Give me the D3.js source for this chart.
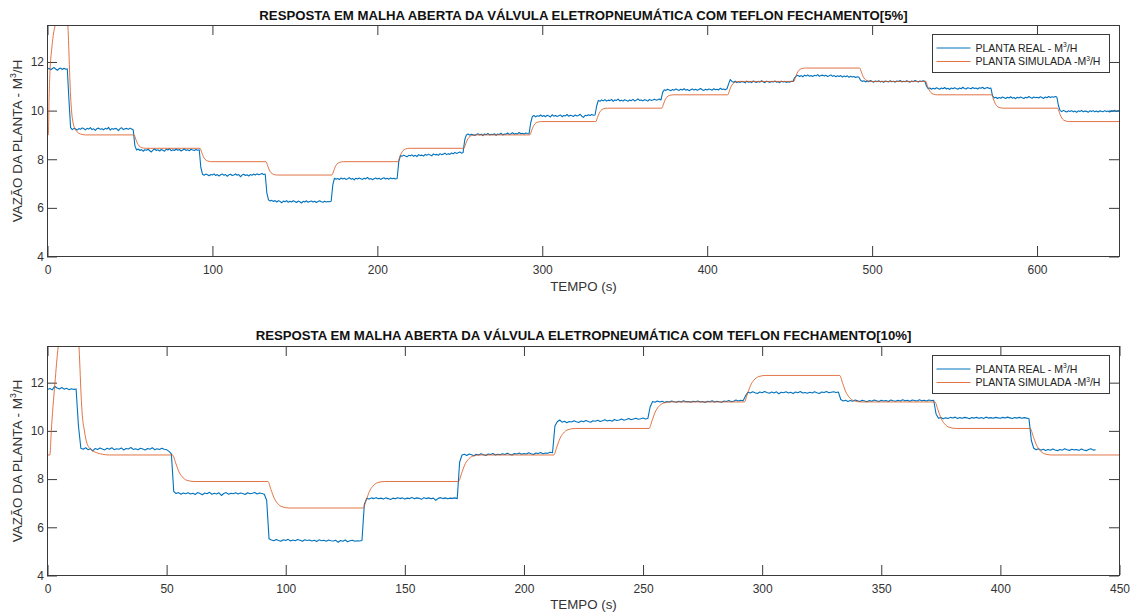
<!DOCTYPE html>
<html>
<head>
<meta charset="utf-8">
<script src="https://cdn.jsdelivr.net/npm/d3@7"></script>
<style>
  html, body { margin: 0; padding: 0; background: #fff; }
  svg { display: block; font-family: "Liberation Sans", Arial, Helvetica, sans-serif; }
</style>
</head>
<body>
<svg id="fig" width="1132" height="613"></svg>
<script>
// ---------------------------------------------------------------------------
// Open-loop response of the electro-pneumatic valve with Teflon seal
// ---------------------------------------------------------------------------

const titleTop = "RESPOSTA EM MALHA ABERTA DA VÁLVULA ELETROPNEUMÁTICA COM TEFLON FECHAMENTO[5%]";
const titleBottom = "RESPOSTA EM MALHA ABERTA DA VÁLVULA ELETROPNEUMÁTICA COM TEFLON FECHAMENTO[10%]";
const seriesNames = ["PLANTA REAL - M", "PLANTA SIMULADA -M"];
const xLabel = "TEMPO (s)";
const yLabel = "VAZÃO DA PLANTA - M";

const yDomain = [4, 13.5];
const ticksY = [4, 6, 8, 10, 12];
const ticksX5 = [0, 100, 200, 300, 400, 500, 600];
const ticksX10 = [0, 50, 100, 150, 200, 250, 300, 350, 400, 450];

// measured flow, one sample per second (m3/h)
const sampleStep = 1;

// 5% closing steps, t = 0 .. 650 s
const realFlow5 = [
  11.70, 11.74, 11.68, 11.73, 11.77, 11.71, 11.66, 11.72, 11.75, 11.69,
  11.74, 11.70, 11.72, 10.45, 9.30, 9.22, 9.27, 9.24, 9.20, 9.26,
  9.23, 9.29, 9.25, 9.21, 9.27, 9.24, 9.30, 9.22, 9.25, 9.19,
  9.26, 9.28, 9.23, 9.25, 9.21, 9.27, 9.24, 9.31, 9.20, 9.26,
  9.23, 9.27, 9.25, 9.18, 9.26, 9.29, 9.22, 9.25, 9.27, 9.23,
  9.28, 9.24, 9.20, 8.55, 8.38, 8.42, 8.36, 8.40, 8.33, 8.39,
  8.37, 8.41, 8.35, 8.30, 8.38, 8.42, 8.36, 8.39, 8.34, 8.40,
  8.37, 8.33, 8.41, 8.38, 8.44, 8.35, 8.39, 8.36, 8.42, 8.37,
  8.40, 8.34, 8.38, 8.43, 8.36, 8.39, 8.35, 8.41, 8.38, 8.36,
  8.40, 8.37, 8.39, 7.65, 7.38, 7.34, 7.39, 7.36, 7.32, 7.37,
  7.35, 7.40, 7.33, 7.37, 7.31, 7.36, 7.39, 7.34, 7.37, 7.30,
  7.36, 7.38, 7.33, 7.35, 7.40, 7.34, 7.37, 7.28, 7.35, 7.38,
  7.33, 7.36, 7.31, 7.37, 7.34, 7.39, 7.35, 7.40, 7.36, 7.38,
  7.41, 7.37, 7.39, 6.62, 6.33, 6.28, 6.31, 6.26, 6.30, 6.24,
  6.29, 6.27, 6.21, 6.28, 6.25, 6.30, 6.23, 6.27, 6.24, 6.29,
  6.26, 6.22, 6.28, 6.25, 6.20, 6.27, 6.24, 6.29, 6.23, 6.26,
  6.28, 6.24, 6.27, 6.22, 6.26, 6.29, 6.25, 6.23, 6.27, 6.24,
  6.26, 6.25, 6.27, 6.95, 7.22, 7.18, 7.21, 7.16, 7.23, 7.19,
  7.22, 7.17, 7.20, 7.24, 7.18, 7.21, 7.15, 7.22, 7.19, 7.23,
  7.20, 7.17, 7.22, 7.19, 7.25, 7.18, 7.21, 7.16, 7.20, 7.23,
  7.19, 7.22, 7.17, 7.21, 7.24, 7.19, 7.22, 7.18, 7.23, 7.20,
  7.22, 7.19, 7.21, 7.90, 8.15, 8.12, 8.17, 8.13, 8.10, 8.16,
  8.14, 8.18, 8.12, 8.16, 8.11, 8.19, 8.15, 8.17, 8.13, 8.20,
  8.16, 8.21, 8.17, 8.14, 8.22, 8.18, 8.20, 8.16, 8.23, 8.19,
  8.21, 8.25, 8.19, 8.23, 8.20, 8.26, 8.22, 8.28, 8.24, 8.27,
  8.30, 8.25, 8.28, 8.80, 9.00, 9.04, 8.99, 9.03, 9.01, 8.98,
  9.02, 9.05, 9.00, 9.03, 8.97, 9.04, 9.01, 9.06, 9.00, 9.03,
  9.01, 9.05, 8.98, 9.04, 9.02, 9.07, 9.00, 9.04, 9.03, 9.08,
  9.02, 9.05, 9.09, 9.03, 9.06, 9.04, 9.10, 9.05, 9.07, 9.04,
  9.08, 9.06, 9.05, 9.50, 9.76, 9.80, 9.74, 9.79, 9.77, 9.82,
  9.76, 9.80, 9.75, 9.81, 9.78, 9.74, 9.83, 9.77, 9.80, 9.76,
  9.79, 9.82, 9.75, 9.80, 9.78, 9.84, 9.77, 9.81, 9.79, 9.76,
  9.82, 9.78, 9.80, 9.85, 9.77, 9.72, 9.81, 9.79, 9.83, 9.80,
  9.84, 9.81, 9.82, 10.20, 10.42, 10.38, 10.44, 10.40, 10.45, 10.39,
  10.43, 10.41, 10.46, 10.38, 10.44, 10.42, 10.47, 10.40, 10.43, 10.39,
  10.45, 10.42, 10.38, 10.44, 10.41, 10.46, 10.40, 10.43, 10.48, 10.42,
  10.44, 10.40, 10.45, 10.43, 10.39, 10.46, 10.42, 10.44, 10.47, 10.43,
  10.45, 10.48, 10.44, 10.75, 10.86, 10.83, 10.88, 10.85, 10.82, 10.87,
  10.84, 10.89, 10.86, 10.83, 10.88, 10.85, 10.90, 10.84, 10.87, 10.82,
  10.86, 10.89, 10.85, 10.88, 10.84, 10.87, 10.91, 10.86, 10.83, 10.88,
  10.85, 10.89, 10.87, 10.84, 10.90, 10.86, 10.88, 10.85, 10.92, 10.87,
  10.89, 10.86, 10.90, 11.10, 11.28, 11.20, 11.17, 11.21, 11.15, 11.19,
  11.16, 11.20, 11.18, 11.14, 11.21, 11.17, 11.19, 11.15, 11.22, 11.18,
  11.16, 11.20, 11.17, 11.23, 11.18, 11.15, 11.21, 11.19, 11.16, 11.20,
  11.18, 11.22, 11.17, 11.19, 11.15, 11.21, 11.18, 11.20, 11.16, 11.19,
  11.17, 11.21, 11.20, 11.35, 11.42, 11.45, 11.40, 11.44, 11.39, 11.46,
  11.42, 11.47, 11.41, 11.44, 11.40, 11.45, 11.43, 11.48, 11.41, 11.44,
  11.46, 11.42, 11.45, 11.40, 11.43, 11.47, 11.41, 11.44, 11.39, 11.43,
  11.40, 11.44, 11.38, 11.42, 11.39, 11.43, 11.37, 11.41, 11.38, 11.40,
  11.36, 11.39, 11.37, 11.25, 11.20, 11.23, 11.18, 11.22, 11.19, 11.24,
  11.20, 11.17, 11.22, 11.19, 11.23, 11.18, 11.21, 11.16, 11.22, 11.20,
  11.18, 11.23, 11.19, 11.21, 11.17, 11.22, 11.20, 11.24, 11.18, 11.21,
  11.19, 11.23, 11.20, 11.17, 11.22, 11.19, 11.24, 11.21, 11.18, 11.22,
  11.20, 11.23, 11.21, 11.00, 10.90, 10.93, 10.88, 10.92, 10.89, 10.94,
  10.91, 10.88, 10.93, 10.90, 10.95, 10.89, 10.92, 10.87, 10.93, 10.90,
  10.94, 10.91, 10.88, 10.93, 10.90, 10.96, 10.91, 10.89, 10.94, 10.92,
  10.90, 10.95, 10.91, 10.93, 10.89, 10.94, 10.92, 10.96, 10.90, 10.93,
  10.95, 10.91, 10.93, 10.62, 10.52, 10.55, 10.50, 10.54, 10.51, 10.56,
  10.53, 10.50, 10.55, 10.52, 10.57, 10.51, 10.54, 10.49, 10.55, 10.52,
  10.56, 10.53, 10.50, 10.55, 10.52, 10.58, 10.54, 10.51, 10.56, 10.53,
  10.55, 10.52, 10.57, 10.54, 10.50, 10.56, 10.53, 10.58, 10.54, 10.57,
  10.55, 10.58, 10.56, 10.20, 10.00, 9.96, 10.01, 9.97, 9.94, 9.99,
  9.96, 10.00, 9.95, 9.98, 9.93, 9.99, 9.96, 10.01, 9.95, 9.98,
  9.97, 9.93, 9.99, 9.96, 10.00, 9.95, 9.98, 9.94, 9.99, 9.97,
  9.95, 10.00, 9.96, 9.98, 9.94, 9.99, 9.97, 10.01, 9.96, 9.99,
  10.00
];

// 10% closing steps, t = 0 .. 440 s
const realFlow10 = [
  11.72, 11.76, 11.70, 11.85, 11.78, 11.74, 11.80, 11.73, 11.77, 11.71,
  11.75, 11.72, 11.74, 10.20, 9.28, 9.24, 9.30, 9.22, 9.26, 9.17,
  9.27, 9.23, 9.29, 9.25, 9.21, 9.28, 9.24, 9.30, 9.22, 9.26,
  9.24, 9.29, 9.21, 9.27, 9.25, 9.31, 9.23, 9.26, 9.22, 9.28,
  9.25, 9.21, 9.27, 9.24, 9.30, 9.22, 9.26, 9.23, 9.28, 9.24,
  9.22, 9.15, 9.05, 7.48, 7.40, 7.44, 7.37, 7.42, 7.39, 7.43,
  7.38, 7.41, 7.36, 7.44, 7.40, 7.35, 7.42, 7.39, 7.45, 7.37,
  7.41, 7.38, 7.43, 7.32, 7.40, 7.44, 7.37, 7.41, 7.39, 7.43,
  7.38, 7.42, 7.40, 7.36, 7.43, 7.39, 7.41, 7.44, 7.38, 7.42,
  7.40, 7.37, 7.12, 5.52, 5.47, 5.44, 5.49, 5.45, 5.42, 5.48,
  5.45, 5.50, 5.43, 5.47, 5.44, 5.49, 5.46, 5.42, 5.48, 5.45,
  5.47, 5.43, 5.46, 5.41, 5.48, 5.44, 5.46, 5.42, 5.47, 5.44,
  5.43, 5.46, 5.38, 5.45, 5.42, 5.47, 5.40, 5.44, 5.46, 5.42,
  5.44, 5.43, 5.45, 6.95, 7.20, 7.17, 7.22, 7.19, 7.23, 7.18,
  7.21, 7.17, 7.22, 7.19, 7.15, 7.21, 7.18, 7.23, 7.19, 7.22,
  7.17, 7.21, 7.19, 7.24, 7.18, 7.22, 7.20, 7.16, 7.23, 7.19,
  7.22, 7.18, 7.21, 7.12, 7.20, 7.23, 7.19, 7.22, 7.18, 7.21,
  7.20, 7.22, 7.19, 8.70, 9.00, 9.03, 8.98, 9.04, 9.01, 8.97,
  9.03, 9.00, 9.05, 9.01, 8.98, 9.04, 9.02, 9.06, 9.00, 9.03,
  9.01, 9.05, 9.02, 9.07, 9.03, 9.00, 9.06, 9.04, 9.08, 9.03,
  9.06, 9.04, 9.09, 9.05, 9.02, 9.08, 9.06, 9.10, 9.05, 9.08,
  9.07, 9.11, 9.09, 10.20, 10.38, 10.45, 10.36, 10.40, 10.34, 10.39,
  10.37, 10.42, 10.38, 10.35, 10.41, 10.38, 10.43, 10.39, 10.36, 10.42,
  10.40, 10.44, 10.39, 10.42, 10.46, 10.41, 10.44, 10.40, 10.47, 10.43,
  10.45, 10.49, 10.44, 10.47, 10.51, 10.46, 10.49, 10.52, 10.48, 10.50,
  10.53, 10.49, 10.51, 11.00, 11.22, 11.19, 11.24, 11.20, 11.23, 11.18,
  11.22, 11.20, 11.24, 11.21, 11.19, 11.23, 11.20, 11.25, 11.21, 11.22,
  11.19, 11.23, 11.21, 11.24, 11.20, 11.22, 11.18, 11.23, 11.21, 11.25,
  11.20, 11.23, 11.21, 11.19, 11.24, 11.22, 11.26, 11.21, 11.23, 11.28,
  11.24, 11.27, 11.25, 11.45, 11.60, 11.57, 11.62, 11.58, 11.55, 11.61,
  11.58, 11.63, 11.59, 11.56, 11.61, 11.57, 11.62, 11.54, 11.60, 11.58,
  11.62, 11.57, 11.60, 11.55, 11.61, 11.58, 11.63, 11.57, 11.59, 11.56,
  11.60, 11.57, 11.62, 11.58, 11.55, 11.61, 11.59, 11.63, 11.58, 11.60,
  11.62, 11.59, 11.61, 11.30, 11.24, 11.27, 11.22, 11.26, 11.23, 11.28,
  11.25, 11.22, 11.27, 11.24, 11.21, 11.26, 11.23, 11.28, 11.25, 11.22,
  11.27, 11.24, 11.26, 11.22, 11.28, 11.25, 11.23, 11.27, 11.24, 11.29,
  11.25, 11.27, 11.23, 11.28, 11.26, 11.24, 11.29, 11.25, 11.27, 11.24,
  11.28, 11.26, 11.27, 10.70, 10.52, 10.55, 10.50, 10.54, 10.51, 10.56,
  10.53, 10.57, 10.51, 10.55, 10.52, 10.56, 10.54, 10.50, 10.55, 10.53,
  10.56, 10.52, 10.55, 10.51, 10.57, 10.53, 10.55, 10.52, 10.56, 10.54,
  10.52, 10.56, 10.53, 10.57, 10.54, 10.51, 10.55, 10.53, 10.56, 10.52,
  10.55, 10.53, 10.50, 9.60, 9.28, 9.22, 9.26, 9.20, 9.24, 9.19,
  9.23, 9.20, 9.25, 9.21, 9.18, 9.23, 9.20, 9.26, 9.22, 9.19,
  9.24, 9.21, 9.23, 9.19, 9.25, 9.21, 9.18, 9.23, 9.26, 9.20,
  9.22
];

// simulated model response, [time s, flow m3/h] points
const simFlow5 = [
  [0, 9.00], [0.5, 9.00], [1, 10.6], [1.5, 11.6], [2.5, 12.5], [3.5, 13.1], [5, 13.6],
  [7, 13.95], [9, 14.2], [11, 14.35], [11.6, 14.2], [12, 13.9], [12.5, 13.3], [13, 12.4],
  [13.5, 11.4], [14, 10.6], [14.7, 9.9], [15.5, 9.5], [16.7, 9.25], [18, 9.12], [20, 9.04], [23, 9.00],
  [52.5, 9.00], [53.5, 8.83], [54.5, 8.66], [55.5, 8.55], [57, 8.48], [59.5, 8.45],
  [92.5, 8.45], [93.5, 8.28], [94.5, 8.11], [95.5, 8.00], [97, 7.93], [99.5, 7.90],
  [132.5, 7.90], [133.5, 7.73], [134.5, 7.56], [135.5, 7.45], [137, 7.38], [139.5, 7.35],
  [172.5, 7.35], [173.5, 7.52], [174.5, 7.69], [175.5, 7.80], [177, 7.87], [179.5, 7.90],
  [212.5, 7.90], [213.5, 8.07], [214.5, 8.24], [215.5, 8.35], [217, 8.42], [219.5, 8.45],
  [252.5, 8.45], [253.5, 8.62], [254.5, 8.79], [255.5, 8.90], [257, 8.97], [259.5, 9.00],
  [292.5, 9.00], [293.5, 9.17], [294.5, 9.34], [295.5, 9.45], [297, 9.52], [299.5, 9.55],
  [332.5, 9.55], [333.5, 9.72], [334.5, 9.89], [335.5, 10.00], [337, 10.07], [339.5, 10.10],
  [372.5, 10.10], [373.5, 10.27], [374.5, 10.44], [375.5, 10.55], [377, 10.62], [379.5, 10.65],
  [412.5, 10.65], [413.5, 10.82], [414.5, 10.99], [415.5, 11.10], [417, 11.17], [419.5, 11.20],
  [452.5, 11.20], [453.5, 11.37], [454.5, 11.54], [455.5, 11.65], [457, 11.72], [459.5, 11.75],
  [492.5, 11.75], [493.5, 11.58], [494.5, 11.41], [495.5, 11.30], [497, 11.23], [499.5, 11.20],
  [532.5, 11.20], [533.5, 11.03], [534.5, 10.86], [535.5, 10.75], [537, 10.68], [539.5, 10.65],
  [572.5, 10.65], [573.5, 10.48], [574.5, 10.31], [575.5, 10.20], [577, 10.13], [579.5, 10.10],
  [612.5, 10.10], [613.5, 9.93], [614.5, 9.76], [615.5, 9.65], [617, 9.58], [619.5, 9.55],
  [650, 9.55]
];

const simFlow10 = [
  [0, 9.00], [1, 9.00], [1.6, 10.0], [2.3, 11.0], [3.1, 11.95], [3.8, 12.8], [4.5, 13.5],
  [6, 14.1], [9, 14.5], [12, 14.6], [12.6, 14.4], [13, 13.9], [13.5, 12.9], [14, 11.7],
  [14.5, 10.8], [15.5, 10.0], [16.5, 9.5], [18, 9.25], [20.5, 9.1], [23, 9.03], [26, 9.00],
  [52.5, 9.00], [53.8, 8.67], [55.1, 8.32], [56.5, 8.10], [58.5, 7.95], [61.5, 7.90],
  [92.5, 7.90], [93.8, 7.57], [95.1, 7.22], [96.5, 7.00], [98.5, 6.85], [101.5, 6.80],
  [132.5, 6.80], [133.8, 7.13], [135.1, 7.48], [136.5, 7.70], [138.5, 7.85], [141.5, 7.90],
  [172.5, 7.90], [173.8, 8.23], [175.1, 8.58], [176.5, 8.80], [178.5, 8.95], [181.5, 9.00],
  [212.5, 9.00], [213.8, 9.33], [215.1, 9.68], [216.5, 9.90], [218.5, 10.05], [221.5, 10.10],
  [252.5, 10.10], [253.8, 10.43], [255.1, 10.78], [256.5, 11.00], [258.5, 11.15], [261.5, 11.20],
  [292.5, 11.20], [293.8, 11.53], [295.1, 11.88], [296.5, 12.10], [298.5, 12.25], [301.5, 12.30],
  [332.5, 12.30], [333.8, 11.97], [335.1, 11.62], [336.5, 11.40], [338.5, 11.25], [341.5, 11.20],
  [372.5, 11.20], [373.8, 10.87], [375.1, 10.52], [376.5, 10.30], [378.5, 10.15], [381.5, 10.10],
  [412.5, 10.10], [413.8, 9.77], [415.1, 9.42], [416.5, 9.20], [418.5, 9.05], [421.5, 9.00],
  [450, 9.00]
];

// ---------------------------------------------------------------------------
const colorReal = "#0072BD";
const colorSim = "#D95319";
const axisColor = "#3a3a3a";
const textColor = "#333333";

const svg = d3.select("#fig");

const panels = [
  { title: titleTop, real: realFlow5, sim: simFlow5, xDomain: [0, 650], xTicks: ticksX5,
    left: 47.5, right: 1119.5, top: 25.5, bottom: 256.5, titleY: 20, xLabelY: 291, legendTop: 34.5 },
  { title: titleBottom, real: realFlow10, sim: simFlow10, xDomain: [0, 450], xTicks: ticksX10,
    left: 47.5, right: 1119.5, top: 346.5, bottom: 575.5, titleY: 340, xLabelY: 609, legendTop: 355.5 }
];

// text with a superscript "3" followed by "/H"; shifts in px of the base size
function unitText(sel, base, size) {
  const lift = size * 0.42;
  sel.append("tspan").text(base);
  sel.append("tspan").attr("font-size", (size * 0.64) + "px").attr("dy", -lift).text("3");
  sel.append("tspan").attr("dy", lift).text("/H");
}

panels.forEach((p, k) => {
  const x = d3.scaleLinear().domain(p.xDomain).range([p.left, p.right]);
  const y = d3.scaleLinear().domain(yDomain).range([p.bottom, p.top]);
  const g = svg.append("g");

  const clipId = "plot-area-" + k;
  svg.append("clipPath").attr("id", clipId)
    .append("rect")
    .attr("x", p.left).attr("y", p.top)
    .attr("width", p.right - p.left).attr("height", p.bottom - p.top);

  const styleAxis = sel => {
    sel.select(".domain").remove();
    sel.selectAll(".tick line").attr("stroke", axisColor).attr("stroke-width", 1);
    sel.selectAll(".tick text").attr("fill", textColor)
      .style("font-family", '"Liberation Sans", Arial, sans-serif')
      .style("font-size", "12px");
  };

  // ticks on all four sides, pointing inwards
  g.append("g").attr("transform", `translate(0,${p.bottom - 0.5})`)
    .call(d3.axisBottom(x).tickValues(p.xTicks).tickSizeInner(-10).tickSizeOuter(0).tickPadding(9.5))
    .call(styleAxis);
  g.append("g").attr("transform", `translate(0,${p.top - 0.5})`)
    .call(d3.axisTop(x).tickValues(p.xTicks).tickSizeInner(-10).tickSizeOuter(0).tickFormat(""))
    .call(styleAxis);
  g.append("g").attr("transform", `translate(${p.left - 0.5},0)`)
    .call(d3.axisLeft(y).tickValues(ticksY).tickSizeInner(-10).tickSizeOuter(0).tickPadding(3))
    .call(styleAxis);
  g.append("g").attr("transform", `translate(${p.right - 0.5},0)`)
    .call(d3.axisRight(y).tickValues(ticksY).tickSizeInner(-10).tickSizeOuter(0).tickFormat(""))
    .call(styleAxis);

  // measured plant
  g.append("path")
    .datum(p.real)
    .attr("clip-path", `url(#${clipId})`)
    .attr("fill", "none")
    .attr("stroke", colorReal)
    .attr("stroke-width", 1.1)
    .attr("stroke-linejoin", "round")
    .attr("d", d3.line().x((d, i) => x(i * sampleStep)).y(d => y(d)));

  // simulated plant
  g.append("path")
    .datum(p.sim)
    .attr("clip-path", `url(#${clipId})`)
    .attr("fill", "none")
    .attr("stroke", colorSim)
    .attr("stroke-opacity", 0.8)
    .attr("stroke-width", 1)
    .attr("d", d3.line().x(d => x(d[0])).y(d => y(d[1])).curve(d3.curveMonotoneX));

  // axes box
  g.append("rect")
    .attr("x", p.left).attr("y", p.top)
    .attr("width", p.right - p.left).attr("height", p.bottom - p.top)
    .attr("fill", "none").attr("stroke", axisColor).attr("stroke-width", 1);

  // title
  g.append("text")
    .attr("x", (p.left + p.right) / 2).attr("y", p.titleY)
    .attr("text-anchor", "middle")
    .attr("font-weight", "bold").attr("font-size", "13.2px").attr("fill", "#111")
    .text(p.title);

  // axis labels
  g.append("text")
    .attr("x", (p.left + p.right) / 2).attr("y", p.xLabelY)
    .attr("text-anchor", "middle").attr("font-size", "13.3px").attr("fill", textColor)
    .text(xLabel);
  g.append("text")
    .attr("transform", `translate(22,${(p.top + p.bottom) / 2}) rotate(-90)`)
    .attr("text-anchor", "middle").attr("font-size", "13.5px").attr("fill", textColor)
    .call(unitText, yLabel, 13.5);

  // legend
  const lg = g.append("g").attr("transform", `translate(932.5,${p.legendTop})`);
  lg.append("rect").attr("width", 177).attr("height", 38)
    .attr("fill", "#fff").attr("stroke", axisColor).attr("stroke-width", 1);
  [colorReal, colorSim].forEach((c, i) => {
    const cy = 13.5 + i * 13.5;
    lg.append("line").attr("x1", 4).attr("x2", 38).attr("y1", cy).attr("y2", cy)
      .attr("stroke", c).attr("stroke-opacity", i ? 0.8 : 1).attr("stroke-width", 1);
    lg.append("text").attr("x", 43).attr("y", cy + 3.8)
      .attr("font-size", "10.5px").attr("fill", "#222")
      .call(unitText, seriesNames[i], 10.5);
  });
});
</script>
</body>
</html>
